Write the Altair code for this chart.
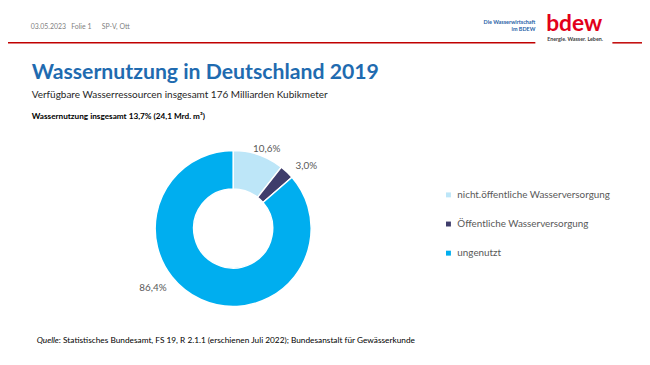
import altair as alt
import pandas as pd

# ---- data ----
categories = ["nicht.öffentliche Wasserversorgung", "Öffentliche Wasserversorgung", "ungenutzt"]
shares = [10.6, 3.0, 86.4]
share_labels = ["10,6%", "3,0%", "86,4%"]
colors = ["#BDE6F8", "#3F3D6B", "#00AEEF"]

title = "Wassernutzung in Deutschland 2019"
subtitle = "Verfügbare Wasserressourcen insgesamt 176 Milliarden Kubikmeter"
subtitle2 = "Wassernutzung insgesamt 13,7% (24,1 Mrd. m³)"
source_head = "Quelle"
source_rest = ": Statistisches Bundesamt, FS 19, R 2.1.1 (erschienen Juli 2022); Bundesanstalt für Gewässerkunde"
header_items = ["03.05.2023", "Folie 1", "SP-V, Ott"]

df = pd.DataFrame({"cat": categories, "value": shares, "label": share_labels,
                   "idx": list(range(len(categories)))})

OFF = 8  # page margin
FONT = "Lato"
CX, CY = 236 - OFF, 229 - OFF


def txt(s, x, y, size, color, weight="normal", align="left", style="normal",
        baseline="alphabetic", font=FONT):
    return alt.Chart(pd.DataFrame({"t": [s]})).mark_text(
        align=align, baseline=baseline, fontSize=size, color=color,
        fontWeight=weight, fontStyle=style, font=font
    ).encode(x=alt.value(x - OFF), y=alt.value(y - OFF), text="t:N")


def rule(x1, x2, y, color, w):
    return alt.Chart(pd.DataFrame({"a": [0]})).mark_rule(
        color=color, strokeWidth=w
    ).encode(x=alt.value(x1 - OFF), x2=alt.value(x2 - OFF), y=alt.value(y - OFF))


base = alt.Chart(df)
theta = alt.Theta("value:Q", stack=True)
order = alt.Order("idx:Q")

donut = base.mark_arc(innerRadius=40, outerRadius=79, stroke="white", strokeWidth=1.5).encode(
    theta=theta,
    order=order,
    color=alt.Color(
        "cat:N",
        scale=alt.Scale(domain=categories, range=colors),
        legend=alt.Legend(
            orient="none", legendX=441, legendY=182, title=None,
            symbolType="square", symbolSize=25, symbolStrokeWidth=0,
            labelFont=FONT, labelFontSize=10, labelColor="#595959",
            labelOffset=4, rowPadding=19.5, padding=0,
        ),
    ),
    x=alt.value(CX), y=alt.value(CY),
)

label_offsets = [(4.6, 5), (12, 2), (-44, -21.9)]
label_layers = []
for c, (ddx, ddy) in zip(categories, label_offsets):
    label_layers.append(
        base.mark_text(radius=90, dx=ddx, dy=ddy, fontSize=10, font=FONT,
                       color="#595959", align="center", baseline="middle").encode(
            theta=theta, order=order,
            text=alt.condition(alt.datum.cat == c, "label:N", alt.value("")),
            x=alt.value(CX), y=alt.value(CY),
        )
    )

layers = [
    # header
    txt(header_items[0], 31, 27, 7, "#7F7F7F"),
    txt(header_items[1], 72, 27, 7, "#7F7F7F"),
    txt(header_items[2], 103, 27, 7, "#7F7F7F"),
    rule(0, 542, 41, "#C00000", 1.5),
    rule(620, 650, 41, "#C00000", 1.5),
    txt("Die Wasserwirtschaft", 542, 22, 5.5, "#1F5FA6", weight="bold", align="right"),
    txt("im BDEW", 542, 29, 5.5, "#1F5FA6", weight="bold", align="right"),
    txt("bdew", 553, 29, 23, "#E2001A", weight="bold"),
    txt("Energie. Wasser. Leben.", 554, 39, 5.4, "#404040", weight="bold"),
    # titles
    txt(title, 32, 78, 21.5, "#1F6BB0", weight="bold"),
    txt(subtitle, 32, 97, 10.1, "#262626"),
    txt(subtitle2, 32, 118, 8.3, "#000000", weight="bold"),
    # source
    txt(source_head, 37, 345, 8.4, "#000000", style="italic"),
    txt(source_rest, 59.5, 345, 8.4, "#000000"),
    donut,
] + label_layers

chart = alt.layer(*layers).properties(
    width=642, height=357, padding=0,
    autosize=alt.AutoSizeParams(type="none"),
).configure_view(stroke=None)

chart.save("out.html", embed_options={"renderer": "svg", "actions": False})
